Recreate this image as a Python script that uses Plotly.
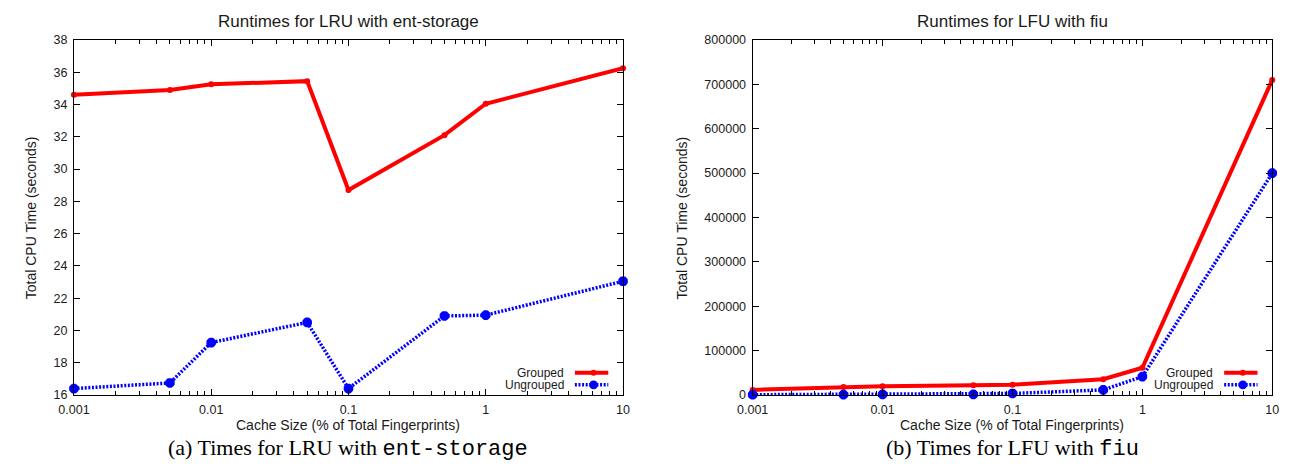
import plotly.graph_objects as go

# ---------------- data ----------------
cache_sizes = [0.001, 0.005, 0.01, 0.05, 0.1, 0.5, 1, 10]

lru_grouped = [34.6, 34.9, 35.25, 35.45, 28.7, 32.1, 34.05, 36.25]
lru_ungrouped = [16.4, 16.75, 19.25, 20.5, 16.4, 20.9, 20.95, 23.05]

lfu_grouped = [11600, 18200, 20000, 21800, 23300, 35600, 61500, 710000]
lfu_ungrouped = [700, 1000, 1400, 1500, 3500, 11600, 41500, 500000]

x_tick_vals = [0.001, 0.01, 0.1, 1, 10]
x_tick_text = ["0.001", "0.01", "0.1", "1", "10"]
x_minor_vals = [m * d for d in [0.001, 0.01, 0.1, 1] for m in range(2, 10)]

left_y_ticks = list(range(16, 39, 2))
right_y_ticks = list(range(0, 800001, 100000))

series_names = ["Grouped", "Ungrouped"]
titles = ["Runtimes for LRU with ent-storage", "Runtimes for LFU with fiu"]
captions = ["(a) Times for LRU with ", "(b) Times for LFU with "]
caption_mono = ["ent-storage", "fiu"]
x_title = "Cache Size (% of Total Fingerprints)"
y_title = "Total CPU Time (seconds)"

# ---------------- layout geometry (pixels) ----------------
W, H = 1294, 468
def px(x):
    return x / W
def py(y):
    return 1 - y / H

L1, R1 = 59, 618
L2, R2 = 750, 1279
TOP, BOT = 34, 400

RED = "#ff0000"
BLUE = "#0000ff"
SANS = "Liberation Sans, Arial, sans-serif"
TXT = "#1a1a1a"
DASH = "2px,1.6px"

fig = go.Figure()

def add_series(xa, ya, g, u):
    fig.add_trace(go.Scatter(
        x=cache_sizes, y=g, mode="lines+markers", name=series_names[0],
        xaxis=xa, yaxis=ya, showlegend=False, cliponaxis=False,
        line=dict(color=RED, width=4),
        marker=dict(symbol="circle", size=6, color=RED)))
    fig.add_trace(go.Scatter(
        x=cache_sizes, y=u, mode="lines+markers", name=series_names[1],
        xaxis=xa, yaxis=ya, showlegend=False, cliponaxis=False,
        line=dict(color=BLUE, width=3.5, dash=DASH),
        marker=dict(symbol="asterisk-open", size=8, color=BLUE,
                    line=dict(color=BLUE, width=3.5))))

add_series("x", "y", lru_grouped, lru_ungrouped)
add_series("x2", "y2", lfu_grouped, lfu_ungrouped)

xaxis_common = dict(
    type="log", range=[-3, 1], tickmode="array",
    tickvals=x_tick_vals, ticktext=x_tick_text,
    ticks="inside", ticklen=6, tickwidth=1, tickcolor="black",
    showline=True, linecolor="black", linewidth=1.2, mirror="allticks",
    showgrid=False, zeroline=False, ticklabelstandoff=3,
    tickfont=dict(family=SANS, size=12.5, color=TXT),
    minor=dict(tickmode="array", tickvals=x_minor_vals, ticks="inside",
               ticklen=3.5, tickwidth=1, tickcolor="black", showgrid=False),
)
yaxis_common = dict(
    ticks="inside", ticklen=6, tickwidth=1, tickcolor="black",
    showline=True, linecolor="black", linewidth=1.2, mirror="allticks",
    showgrid=False, zeroline=False, ticklabelstandoff=3,
    tickfont=dict(family=SANS, size=12.5, color=TXT),
)

fig.update_layout(
    width=W, height=H,
    margin=dict(l=0, r=0, t=0, b=0),
    paper_bgcolor="white", plot_bgcolor="white",
    showlegend=False,
    xaxis=dict(domain=[px(L1), px(R1)], anchor="y", **xaxis_common),
    xaxis2=dict(domain=[px(L2), px(R2)], anchor="y2", **xaxis_common),
    yaxis=dict(domain=[py(BOT), py(TOP)], anchor="x", range=[16, 38],
               tickmode="array", tickvals=left_y_ticks, **yaxis_common),
    yaxis2=dict(domain=[py(BOT), py(TOP)], anchor="x2", range=[0, 800000],
                tickmode="array", tickvals=right_y_ticks,
                ticktext=[str(v) for v in right_y_ticks], **yaxis_common),
)

annotations = []
shapes = []
for i, (L, R) in enumerate([(L1, R1), (L2, R2)]):
    cx = (L + R) / 2
    annotations.append(dict(text=titles[i], x=px(cx), y=py(15), xref="paper", yref="paper",
                            showarrow=False, xanchor="center", yanchor="middle",
                            font=dict(family=SANS, size=17, color=TXT)))
    annotations.append(dict(text=x_title, x=px(cx), y=py(431), xref="paper", yref="paper",
                            showarrow=False, xanchor="center", yanchor="middle",
                            font=dict(family=SANS, size=14, color=TXT)))
    annotations.append(dict(
        text=captions[i] + '<span style="font-family:Liberation Mono, Courier New, monospace">'
        + caption_mono[i] + "</span>",
        x=px(cx), y=py(455), xref="paper", yref="paper",
        showarrow=False, xanchor="center", yanchor="middle",
        font=dict(family="Liberation Serif, Times New Roman, serif", size=22, color="black")))
    yt_x = 15 if i == 0 else 678
    annotations.append(dict(text=y_title, x=px(yt_x), y=py((TOP + BOT) / 2), xref="paper", yref="paper",
                            showarrow=False, textangle=-90, xanchor="center", yanchor="middle",
                            font=dict(family=SANS, size=14, color=TXT)))
    # legend (gnuplot style: text then sample)
    line_end = R - 15
    line_start = line_end - 34
    text_right = line_start - 9
    for j, (nm, col, yy) in enumerate([(series_names[0], RED, 377), (series_names[1], BLUE, 389.5)]):
        annotations.append(dict(text=nm, x=px(text_right), y=py(yy), xref="paper", yref="paper",
                                showarrow=False, xanchor="right", yanchor="middle",
                                font=dict(family=SANS, size=12, color=TXT)))
        shapes.append(dict(type="line", xref="paper", yref="paper",
                           x0=px(line_start), x1=px(line_end), y0=py(yy), y1=py(yy),
                           line=dict(color=col, width=4 if j == 0 else 3.5,
                                     dash="solid" if j == 0 else DASH)))
        mx = (line_start + line_end) / 2 + 2
        r = 3 if j == 0 else 4.5
        shapes.append(dict(type="circle", xref="paper", yref="paper",
                           x0=px(mx - r), x1=px(mx + r), y0=py(yy - r), y1=py(yy + r),
                           fillcolor=col, line=dict(color=col, width=0)))

fig.update_layout(annotations=annotations, shapes=shapes)
fig.write_html("out.html")
